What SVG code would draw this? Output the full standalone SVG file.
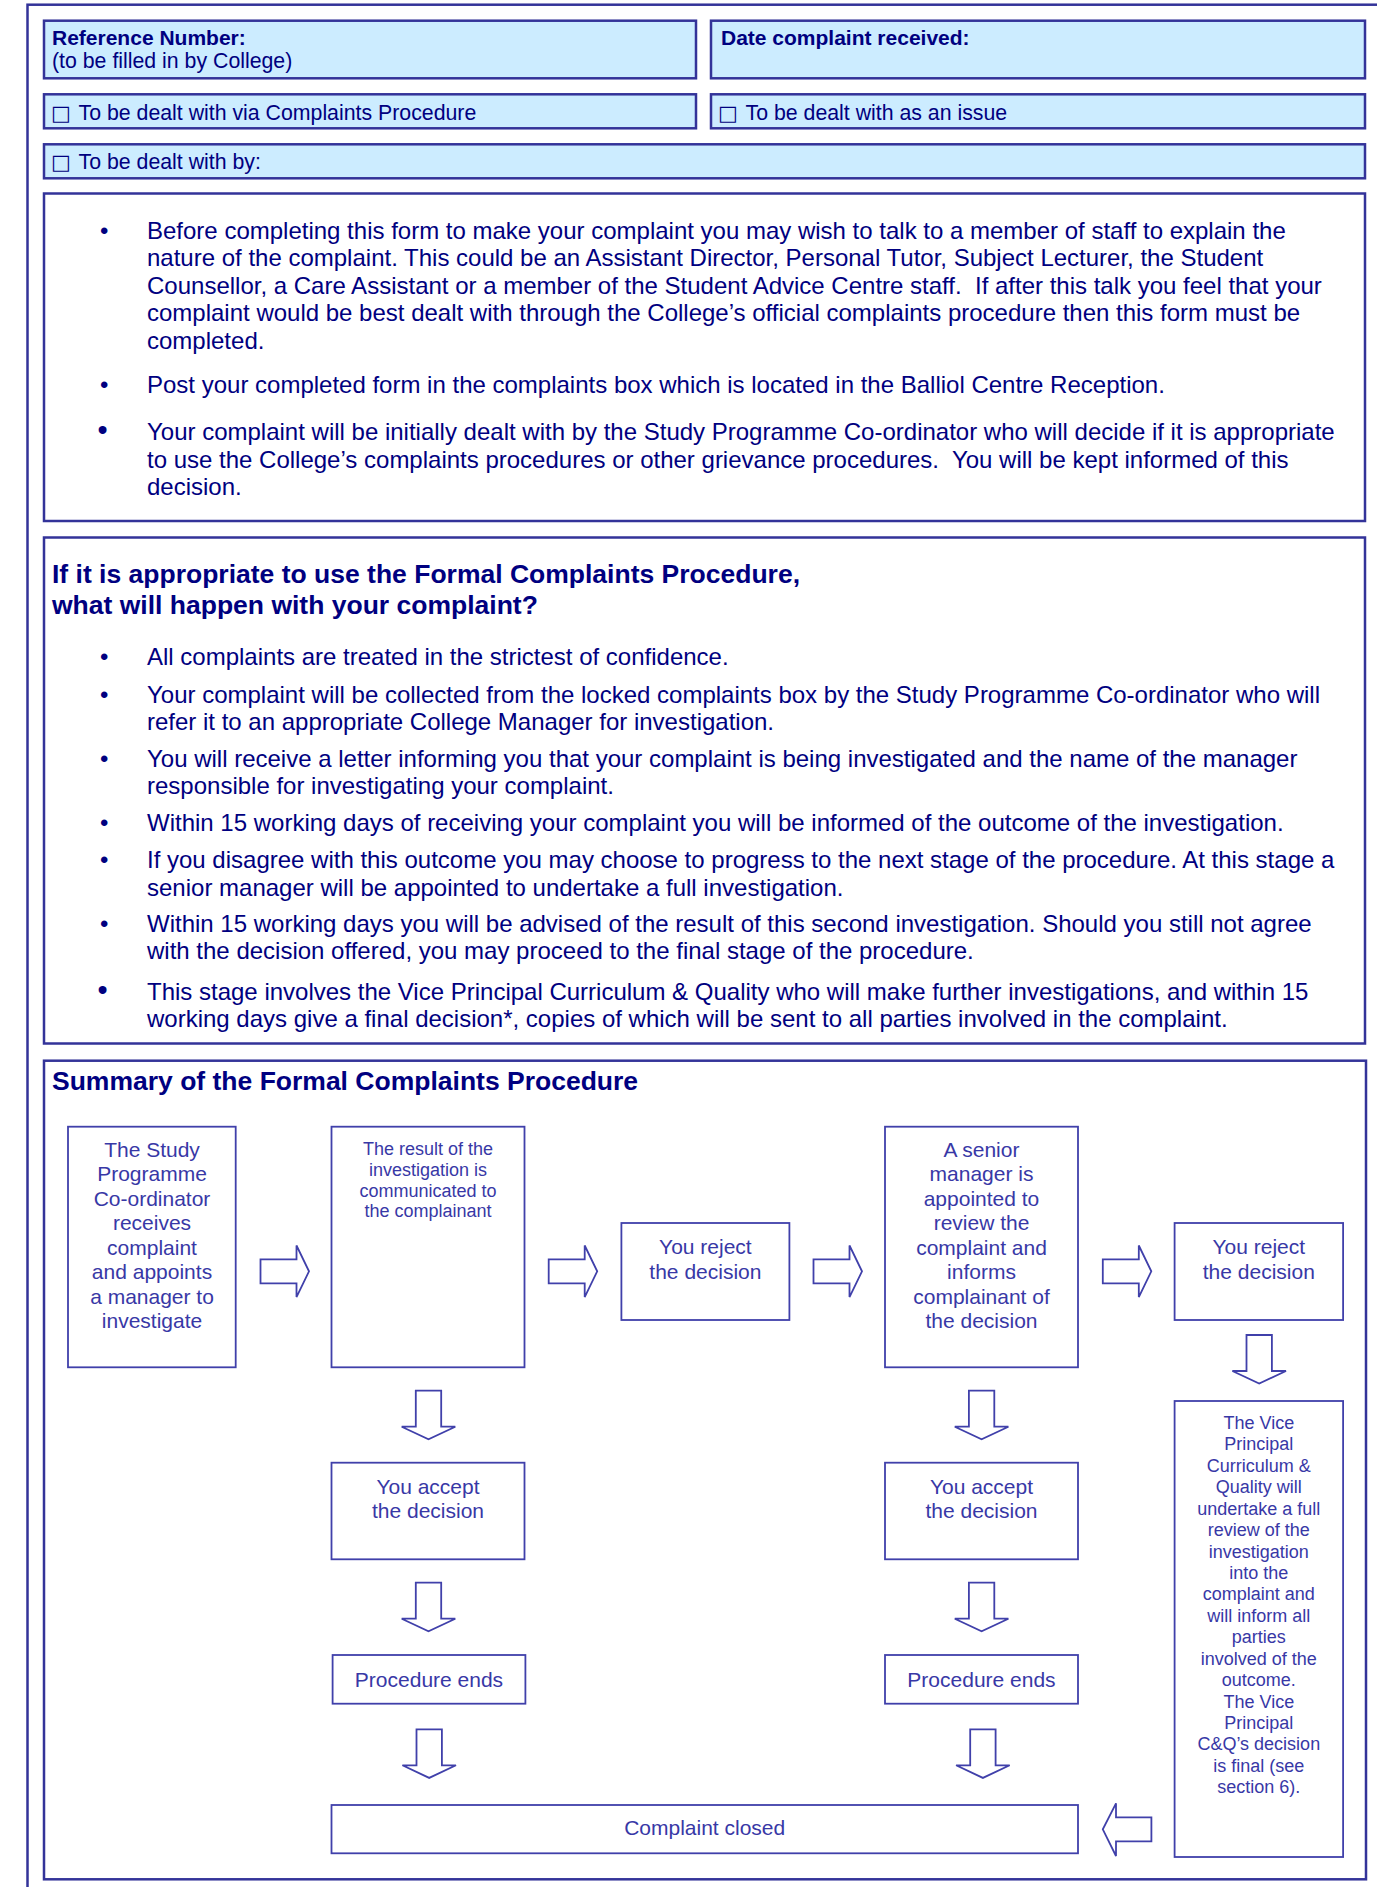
<svg xmlns="http://www.w3.org/2000/svg" width="1377" height="1887" viewBox="0 0 1377 1887">
<style>
.frame{fill:none;stroke:#333399;stroke-width:2.5}
.field{fill:#CCECFF;stroke:#333399;stroke-width:2.5}
.panel{fill:#FFFFFF;stroke:#333399;stroke-width:2.5}
.fbox{fill:#FFFFFF;stroke:#4040AA;stroke-width:1.8}
.arr{fill:#FFFFFF;stroke:#4040AA;stroke-width:1.8;stroke-linejoin:miter}
.ft{font-family:"Liberation Sans",Arial,sans-serif;font-size:21.3px;fill:#000080}
.ftb{font-family:"Liberation Sans",Arial,sans-serif;font-size:21px;font-weight:bold;fill:#000080}
.chk{font-family:"DejaVu Sans",sans-serif;font-size:21px;font-weight:bold}
.body{font-family:"Liberation Sans",Arial,sans-serif;font-size:24px;fill:#000080}
.big{font-size:29px}
.head{font-family:"Liberation Sans",Arial,sans-serif;font-size:26.5px;font-weight:bold;fill:#000080}
.fl{font-family:"Liberation Sans",Arial,sans-serif;font-size:21px;fill:#3838A6;text-anchor:middle}
.fs{font-family:"Liberation Sans",Arial,sans-serif;font-size:18px;fill:#3838A6;text-anchor:middle}
</style>
<defs>
<path id="arrowR" d="M0,-12 H36 V-25.8 L48.5,0 L36,25.8 V12 H0 Z"/>
<path id="arrowD" d="M-12.7,0 H12.7 V36 H26.8 L0,48.6 L-26.8,36 H-12.7 Z"/>
</defs>
<rect width="1377" height="1887" fill="#FFFFFF"/>
<rect class="frame" x="27.5" y="4.7" width="1400" height="1900"/>

<g id="field-reference">
<rect class="field" x="44" y="20.7" width="652" height="57.6"/>
<text class="ftb" x="52" y="45">Reference Number:</text>
<text class="ft" x="52" y="68">(to be filled in by College)</text>
</g>
<g id="field-date">
<rect class="field" x="711" y="20.7" width="654" height="57.6"/>
<text class="ftb" x="721" y="45">Date complaint received:</text>
</g>
<g id="field-procedure">
<rect class="field" x="44" y="94.3" width="652" height="34"/>
<text class="ft" x="51" y="119.5"><tspan class="chk">□</tspan><tspan x="73"> To be dealt with via Complaints Procedure</tspan></text>
</g>
<g id="field-issue">
<rect class="field" x="711" y="94.3" width="654" height="34"/>
<text class="ft" x="718" y="119.5"><tspan class="chk">□</tspan><tspan x="740"> To be dealt with as an issue</tspan></text>
</g>
<g id="field-dealtby">
<rect class="field" x="44" y="144.3" width="1321" height="34"/>
<text class="ft" x="51" y="169"><tspan class="chk">□</tspan><tspan x="73"> To be dealt with by:</tspan></text>
</g>

<g id="panel-intro">
<rect class="panel" x="44" y="193.5" width="1321" height="327.5"/>
<text class="body" x="100" y="238.5">•</text>
<text class="body" x="147" y="238.5">Before completing this form to make your complaint you may wish to talk to a member of staff to explain the</text>
<text class="body" x="147" y="266">nature of the complaint. This could be an Assistant Director, Personal Tutor, Subject Lecturer, the Student</text>
<text class="body" x="147" y="293.5" xml:space="preserve">Counsellor, a Care Assistant or a member of the Student Advice Centre staff.  If after this talk you feel that your</text>
<text class="body" x="147" y="321">complaint would be best dealt with through the College’s official complaints procedure then this form must be</text>
<text class="body" x="147" y="348.5">completed.</text>
<text class="body" x="100" y="392.7">•</text>
<text class="body" x="147" y="392.7">Post your completed form in the complaints box which is located in the Balliol Centre Reception.</text>
<text class="body big" x="97.5" y="440">•</text>
<text class="body" x="147" y="440">Your complaint will be initially dealt with by the Study Programme Co-ordinator who will decide if it is appropriate</text>
<text class="body" x="147" y="467.5" xml:space="preserve">to use the College’s complaints procedures or other grievance procedures.  You will be kept informed of this</text>
<text class="body" x="147" y="495">decision.</text>
</g>

<g id="panel-formal">
<rect class="panel" x="44" y="537.5" width="1321" height="506"/>
<text class="head" x="52" y="582.5">If it is appropriate to use the Formal Complaints Procedure,</text>
<text class="head" x="52" y="614">what will happen with your complaint?</text>
<text class="body" x="100" y="665">•</text>
<text class="body" x="147" y="665">All complaints are treated in the strictest of confidence.</text>
<text class="body" x="100" y="702.7">•</text>
<text class="body" x="147" y="702.7">Your complaint will be collected from the locked complaints box by the Study Programme Co-ordinator who will</text>
<text class="body" x="147" y="730">refer it to an appropriate College Manager for investigation.</text>
<text class="body" x="100" y="766.7">•</text>
<text class="body" x="147" y="766.7">You will receive a letter informing you that your complaint is being investigated and the name of the manager</text>
<text class="body" x="147" y="794">responsible for investigating your complaint.</text>
<text class="body" x="100" y="830.7">•</text>
<text class="body" x="147" y="830.7">Within 15 working days of receiving your complaint you will be informed of the outcome of the investigation.</text>
<text class="body" x="100" y="868.3">•</text>
<text class="body" x="147" y="868.3">If you disagree with this outcome you may choose to progress to the next stage of the procedure. At this stage a</text>
<text class="body" x="147" y="895.5">senior manager will be appointed to undertake a full investigation.</text>
<text class="body" x="100" y="931.7">•</text>
<text class="body" x="147" y="931.7">Within 15 working days you will be advised of the result of this second investigation. Should you still not agree</text>
<text class="body" x="147" y="959.3">with the decision offered, you may proceed to the final stage of the procedure.</text>
<text class="body big" x="97.5" y="1000">•</text>
<text class="body" x="147" y="1000">This stage involves the Vice Principal Curriculum &amp; Quality who will make further investigations, and within 15</text>
<text class="body" x="147" y="1027.3">working days give a final decision*, copies of which will be sent to all parties involved in the complaint.</text>
</g>

<g id="panel-summary">
<rect class="panel" x="44" y="1060.7" width="1322" height="818.6"/>
<text class="head" x="52" y="1090">Summary of the Formal Complaints Procedure</text>
</g>

<g id="node-coordinator">
<rect class="fbox" x="68" y="1126.7" width="167.7" height="240.6"/>
<text class="fl" x="152" y="1156.7">The Study</text>
<text class="fl" x="152" y="1181.2">Programme</text>
<text class="fl" x="152" y="1205.7">Co-ordinator</text>
<text class="fl" x="152" y="1230.2">receives</text>
<text class="fl" x="152" y="1254.7">complaint</text>
<text class="fl" x="152" y="1279.2">and appoints</text>
<text class="fl" x="152" y="1303.7">a manager to</text>
<text class="fl" x="152" y="1328.2">investigate</text>
</g>
<g id="node-result">
<rect class="fbox" x="331.5" y="1126.7" width="193" height="240.6"/>
<text class="fs" x="428" y="1155">The result of the</text>
<text class="fs" x="428" y="1175.8">investigation is</text>
<text class="fs" x="428" y="1196.6">communicated to</text>
<text class="fs" x="428" y="1217.4">the complainant</text>
</g>
<g id="node-reject1">
<rect class="fbox" x="621.4" y="1223" width="168" height="97"/>
<text class="fl" x="705.4" y="1254">You reject</text>
<text class="fl" x="705.4" y="1278.5">the decision</text>
</g>
<g id="node-senior">
<rect class="fbox" x="885" y="1126.7" width="193" height="240.6"/>
<text class="fl" x="981.5" y="1156.7">A senior</text>
<text class="fl" x="981.5" y="1181.2">manager is</text>
<text class="fl" x="981.5" y="1205.7">appointed to</text>
<text class="fl" x="981.5" y="1230.2">review the</text>
<text class="fl" x="981.5" y="1254.7">complaint and</text>
<text class="fl" x="981.5" y="1279.2">informs</text>
<text class="fl" x="981.5" y="1303.7">complainant of</text>
<text class="fl" x="981.5" y="1328.2">the decision</text>
</g>
<g id="node-reject2">
<rect class="fbox" x="1174.6" y="1223" width="168.5" height="97"/>
<text class="fl" x="1258.8" y="1254">You reject</text>
<text class="fl" x="1258.8" y="1278.5">the decision</text>
</g>
<g id="node-vice">
<rect class="fbox" x="1174.6" y="1401" width="168.5" height="456"/>
<text class="fs" x="1258.8" y="1429">The Vice</text>
<text class="fs" x="1258.8" y="1450.4">Principal</text>
<text class="fs" x="1258.8" y="1471.9">Curriculum &amp;</text>
<text class="fs" x="1258.8" y="1493.3">Quality will</text>
<text class="fs" x="1258.8" y="1514.7">undertake a full</text>
<text class="fs" x="1258.8" y="1536.2">review of the</text>
<text class="fs" x="1258.8" y="1557.6">investigation</text>
<text class="fs" x="1258.8" y="1579">into the</text>
<text class="fs" x="1258.8" y="1600.4">complaint and</text>
<text class="fs" x="1258.8" y="1621.9">will inform all</text>
<text class="fs" x="1258.8" y="1643.3">parties</text>
<text class="fs" x="1258.8" y="1664.7">involved of the</text>
<text class="fs" x="1258.8" y="1686.2">outcome.</text>
<text class="fs" x="1258.8" y="1707.6">The Vice</text>
<text class="fs" x="1258.8" y="1729">Principal</text>
<text class="fs" x="1258.8" y="1750.4">C&amp;Q’s decision</text>
<text class="fs" x="1258.8" y="1771.9">is final (see</text>
<text class="fs" x="1258.8" y="1793.3">section 6).</text>
</g>
<g id="node-accept1">
<rect class="fbox" x="331.5" y="1462.7" width="193" height="96.6"/>
<text class="fl" x="428" y="1493.5">You accept</text>
<text class="fl" x="428" y="1518">the decision</text>
</g>
<g id="node-accept2">
<rect class="fbox" x="885" y="1462.7" width="193" height="96.6"/>
<text class="fl" x="981.5" y="1493.5">You accept</text>
<text class="fl" x="981.5" y="1518">the decision</text>
</g>
<g id="node-ends1">
<rect class="fbox" x="332.6" y="1655" width="192.8" height="48.7"/>
<text class="fl" x="429" y="1686.7">Procedure ends</text>
</g>
<g id="node-ends2">
<rect class="fbox" x="885" y="1655" width="193" height="48.7"/>
<text class="fl" x="981.5" y="1686.5">Procedure ends</text>
</g>
<g id="node-closed">
<rect class="fbox" x="331.5" y="1805" width="746.5" height="48.3"/>
<text class="fl" x="704.7" y="1835">Complaint closed</text>
</g>

<g id="connectors">
<use href="#arrowR" class="arr" transform="translate(260.5,1271.3)"/>
<use href="#arrowR" class="arr" transform="translate(548.7,1271.3)"/>
<use href="#arrowR" class="arr" transform="translate(813.5,1271.3)"/>
<use href="#arrowR" class="arr" transform="translate(1102.8,1271.3)"/>
<use href="#arrowD" class="arr" transform="translate(428.5,1390.7)"/>
<use href="#arrowD" class="arr" transform="translate(428.5,1582.7)"/>
<use href="#arrowD" class="arr" transform="translate(429.2,1729.3)"/>
<use href="#arrowD" class="arr" transform="translate(981.6,1390.7)"/>
<use href="#arrowD" class="arr" transform="translate(981.6,1582.7)"/>
<use href="#arrowD" class="arr" transform="translate(982.9,1729.3)"/>
<use href="#arrowD" class="arr" transform="translate(1259.2,1335)"/>
<path class="arr" d="M1151.4,1817.3 H1116 V1803.3 L1102.8,1829.3 L1116,1856 V1841.3 H1151.4 Z"/>
</g>
</svg>
